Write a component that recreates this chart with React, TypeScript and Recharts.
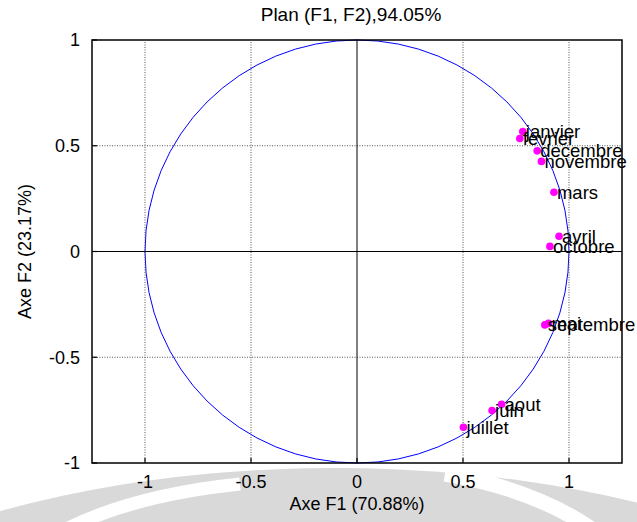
import {
  ScatterChart,
  Scatter,
  XAxis,
  YAxis,
  ReferenceLine,
  ReferenceArea,
} from 'recharts';

const months = [
  'janvier', 'fevrier', 'mars', 'avril', 'mai', 'juin',
  'juillet', 'aout', 'septembre', 'octobre', 'novembre', 'decembre',
];
const f1 = [0.782, 0.768, 0.929, 0.953, 0.903, 0.637, 0.502, 0.682, 0.886, 0.91, 0.87, 0.85];
const f2 = [0.567, 0.534, 0.28, 0.072, -0.34, -0.752, -0.831, -0.722, -0.347, 0.024, 0.426, 0.476];
const xTicks = [-1, -0.5, 0, 0.5, 1];
const yTicks = [-1, -0.5, 0, 0.5, 1];

const points = months.map((name, i) => ({ name, x: f1[i], y: f2[i] }));

const FONT = '"Liberation Sans", Arial, sans-serif';
const MAGENTA = '#ff00ff';
const TICK = 5;

const renderDot = (p: any) => <circle cx={p.cx} cy={p.cy} r={3.8} fill={MAGENTA} />;

const renderName = (p: any) => (
  <text x={p.cx + 3} y={p.cy} dy="0.35em" fontSize={18.5} fontFamily={FONT} fill="#000">
    {p.payload.name}
  </text>
);

const renderCircle = (p: any) => (
  <ellipse
    cx={p.x + p.width / 2}
    cy={p.y + p.height / 2}
    rx={p.width / 2}
    ry={p.height / 2}
    fill="none"
    stroke="#0000ff"
    strokeWidth={1}
  />
);

// bottom axis: inward tick mark + label
const X_MARGIN = 12;
const bottomTick = (p: any) => {
  const base = p.y - X_MARGIN;
  return (
    <g>
      <line x1={p.x} x2={p.x} y1={base} y2={base - TICK} stroke="#000" strokeWidth={1.2} />
      <text x={p.x} y={p.y} dy="0.71em" textAnchor="middle" fontSize={18} fontFamily={FONT} fill="#000">
        {p.payload.value}
      </text>
    </g>
  );
};

const Y_MARGIN = 12;
const leftTick = (p: any) => {
  const base = p.x + Y_MARGIN;
  return (
    <g>
      <line x1={base} x2={base + TICK} y1={p.y} y2={p.y} stroke="#000" strokeWidth={1.2} />
      <text x={p.x} y={p.y} dy="0.35em" textAnchor="end" fontSize={18} fontFamily={FONT} fill="#000">
        {p.payload.value}
      </text>
    </g>
  );
};

const topTick = (p: any) => <line x1={p.x} x2={p.x} y1={p.y} y2={p.y + TICK} stroke="#000" strokeWidth={1.2} />;
const rightTick = (p: any) => <line x1={p.x} x2={p.x - TICK} y1={p.y} y2={p.y} stroke="#000" strokeWidth={1.2} />;

const yLabel = (p: any) => {
  const vb = p.viewBox || { x: 32, y: 40, width: 60, height: 423 };
  const cx = vb.x - 7;
  const cy = vb.y + vb.height / 2;
  return (
    <text
      x={cx}
      y={cy}
      transform={`rotate(-90 ${cx} ${cy})`}
      textAnchor="middle"
      dy="0.35em"
      fontSize={18}
      fontFamily={FONT}
      fill="#000"
    >
      Axe F2 (23.17%)
    </text>
  );
};

export default function App() {
  return (
    <div style={{ position: 'absolute', left: 0, top: 0, width: 637, height: 522, background: '#fff', overflow: 'hidden' }}>
      <svg width={637} height={522} style={{ position: 'absolute', left: 0, top: 0 }}>
        <ellipse cx={335} cy={760} rx={640} ry={292} fill="#d9d9d9" />
        <path d="M 55 535 Q 125 496 240 484" stroke="#fff" strokeWidth={13} fill="none" />
        <path d="M 445 474 Q 540 490 600 535" stroke="#fff" strokeWidth={15} fill="none" />
      </svg>
      <div
        style={{
          position: 'absolute',
          left: 0,
          top: 4,
          width: 702,
          textAlign: 'center',
          fontFamily: FONT,
          fontSize: 19,
          lineHeight: '22px',
          color: '#000',
        }}
      >
        Plan (F1, F2),94.05%
      </div>
      <div style={{ position: 'absolute', left: 0, top: 0 }}>
        <ScatterChart width={637} height={522} margin={{ top: 40, right: 15, bottom: 29, left: 32 }}>
          <XAxis
            type="number"
            dataKey="x"
            domain={[-1.25, 1.25]}
            ticks={xTicks}
            height={30}
            axisLine={false}
            tickLine={false}
            tickSize={0}
            tickMargin={X_MARGIN}
            tick={bottomTick}
            label={{ value: 'Axe F1 (70.88%)', position: 'bottom', offset: 4, fontSize: 18, fontFamily: FONT, fill: '#000' }}
          />
          <XAxis
            xAxisId="top"
            orientation="top"
            type="number"
            dataKey="x"
            domain={[-1.25, 1.25]}
            ticks={xTicks}
            height={0}
            axisLine={false}
            tickLine={false}
            tickSize={0}
            tickMargin={0}
            tick={topTick}
          />
          <YAxis
            type="number"
            dataKey="y"
            domain={[-1, 1]}
            ticks={yTicks}
            width={60}
            axisLine={false}
            tickLine={false}
            tickSize={0}
            tickMargin={Y_MARGIN}
            tick={leftTick}
            label={{ content: yLabel }}
          />
          <YAxis
            yAxisId="right"
            orientation="right"
            type="number"
            dataKey="y"
            domain={[-1, 1]}
            ticks={yTicks}
            width={0}
            axisLine={false}
            tickLine={false}
            tickSize={0}
            tickMargin={0}
            tick={rightTick}
          />
          {xTicks.filter((v) => v !== 0).map((v) => (
            <ReferenceLine key={`gx${v}`} x={v} stroke="#555" strokeDasharray="1 1.5" strokeWidth={1} />
          ))}
          {yTicks.filter((v) => v !== 0 && Math.abs(v) !== 1).map((v) => (
            <ReferenceLine key={`gy${v}`} y={v} stroke="#555" strokeDasharray="1 1.5" strokeWidth={1} />
          ))}
          <ReferenceLine x={0} stroke="#000" strokeWidth={1} />
          <ReferenceLine y={0} stroke="#000" strokeWidth={1} />
          <ReferenceArea x1={-1} x2={1} y1={-1} y2={1} shape={renderCircle} />
          <ReferenceArea x1={-1.25} x2={1.25} y1={-1} y2={1} fill="none" stroke="#000" strokeWidth={1.5} />
          <Scatter data={points} shape={renderDot} isAnimationActive={false} />
          <Scatter data={points} shape={renderName} isAnimationActive={false} />
        </ScatterChart>
      </div>
    </div>
  );
}
